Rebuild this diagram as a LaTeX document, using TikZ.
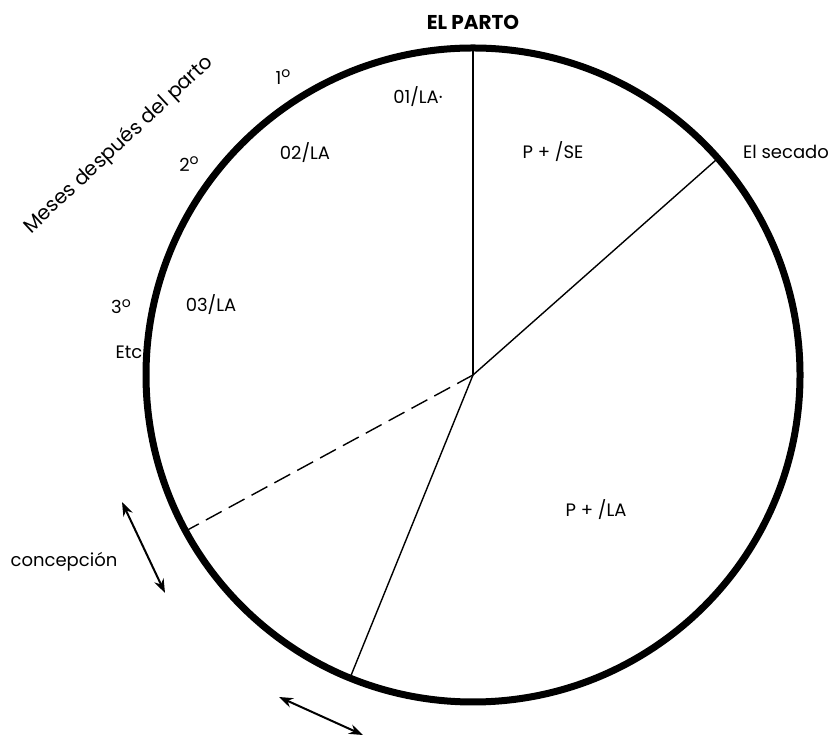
\documentclass[tikz,border=0pt]{standalone}
\usepackage{fontspec}
\setmainfont{Poppins}
\usetikzlibrary{arrows.meta, calc}
\newcommand{\ord}{{\fontsize{7}{7}\selectfont\raisebox{0.45em}{o}}}

\begin{document}
\begin{tikzpicture}[x=0.5pt, y=0.5pt,
    lbl/.style={font=\fontsize{9}{11}\selectfont, inner sep=1pt},
    rim/.style={line width=3.5pt},
    spoke/.style={line width=0.7pt},
    swing/.style={{Stealth[length=7pt,width=5pt]}-{Stealth[length=7pt,width=5pt]}, line width=1pt}]
  \useasboundingbox (0,0) rectangle (833,737);
  % the year of the cow
  \coordinate (c) at (473,362);
  \draw[rim] (c) circle[radius=163.5pt];
  \coordinate (top) at ($(c)+(90:163.5pt)$);
  \coordinate (dry) at ($(c)+(41.5:163.5pt)$);
  \coordinate (conc) at ($(c)+(208.5:163.5pt)$);
  \coordinate (low) at ($(c)+(247.9:163.5pt)$);
  \draw[spoke, line width=1pt] (c) -- (top);
  \draw[spoke] (c) -- (dry);
  \draw[spoke] (c) -- (low);
  \draw[spoke, dashed, dash pattern=on 9pt off 4pt] (c) -- (conc);
  % labels
  \node[lbl, font=\fontsize{10}{12}\selectfont\bfseries] (parto) at (473,715) {EL PARTO};
  \node[lbl] (la1) at (418,640) {01/LA·};
  \node[lbl] (la2) at (305,584) {02/LA};
  \node[lbl] (la3) at (211,432) {03/LA};
  \node[lbl] (m1) at (283,660) {1\ord};
  \node[lbl] (m2) at (189,573) {2\ord};
  \node[lbl] (m3) at (121,430) {3\ord};
  \node[lbl] (etc) at (129,385) {Etc};
  \node[lbl, font=\fontsize{10}{12}\selectfont, rotate=43] (meses) at (119,592) {Meses después del parto};
  \node[lbl] (secado) at (786,585) {El secado};
  \node[lbl] (pse) at (553,585) {P + /SE};
  \node[lbl] (pla) at (596,227) {P + /LA};
  \node[lbl] (concep) at (64,175) {concepción};
  % margins of variation
  \coordinate (a1) at (122,235);
  \coordinate (a2) at (165,144);
  \coordinate (b1) at (279,40);
  \coordinate (b2) at (363,2);
  \draw[swing] (a1) -- (a2);
  \draw[swing] (b1) -- (b2);
\end{tikzpicture}
\end{document}
